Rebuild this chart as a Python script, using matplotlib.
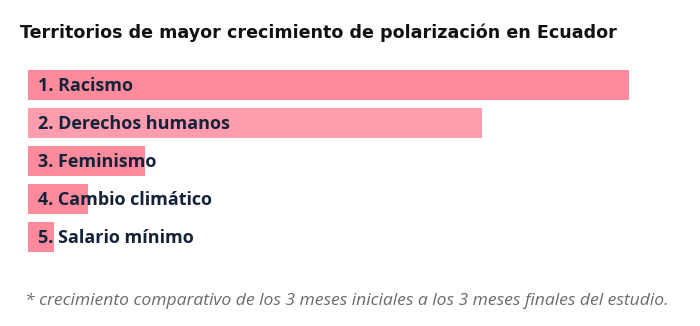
import matplotlib.pyplot as plt

# crecimiento relativo por tema (escala de la barra mayor)
temas = ["1. Racismo", "2. Derechos humanos", "3. Feminismo",
         "4. Cambio climático", "5. Salario mínimo"]
crecimiento = [601, 454, 117, 60, 26]
colores = ["#ff8a9b", "#ff9cad", "#ff8a9b", "#ff8a9b", "#ff8a9b"]

titulo = "Territorios de mayor crecimiento de polarización en Ecuador"
nota = "* crecimiento comparativo de los 3 meses iniciales a los 3 meses finales del estudio."

W, H = 700, 326


def main():
    fig = plt.figure(figsize=(W / 100, H / 100), dpi=100)
    ax = fig.add_axes([28 / W, 1 - 252 / H, 650 / W, 182 / H])

    alto = 30 / 38
    pos = list(range(len(temas)))
    ax.barh(pos, crecimiento, height=alto, color=colores, left=0)
    ax.set_xlim(0, 650)
    ax.set_ylim(len(temas) - 1 + alto / 2, -alto / 2)
    ax.axis("off")

    for i, t in enumerate(temas):
        ax.annotate(t, (0, i), xytext=(7.2, -0.5), textcoords="offset points",
                    ha="left", va="center", fontsize=13, fontweight="bold",
                    family="Open Sans", color="#14233a")

    fig.text(20 / W, 1 - 33 / H, titulo, ha="left", va="center",
             fontsize=12.65, fontweight="bold", family="DejaVu Sans", color="#111111")
    fig.text(25 / W, 1 - 301 / H, nota, ha="left", va="center",
             fontsize=12.6, style="italic", family="Open Sans", color="#6b6b6b")

    fig.savefig("out.png", dpi=100, facecolor="white")
    plt.close(fig)


if __name__ == "__main__":
    main()
